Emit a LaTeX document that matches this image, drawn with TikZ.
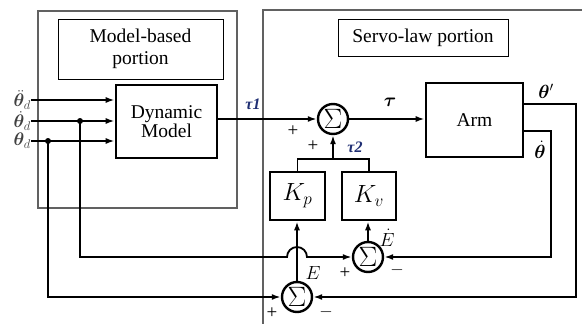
\documentclass[tikz,border=0pt]{standalone}
\usepackage{graphicx}
\usepackage{fontspec}
\setmainfont{Liberation Serif}
\usepackage{bm}
\usetikzlibrary{arrows.meta}
\definecolor{framegray}{gray}{0.38}
\definecolor{taublue}{rgb}{0.12,0.18,0.45}
\newcommand{\scmath}[2]{\scalebox{#1}{$#2$}}
\begin{document}
\begin{tikzpicture}[x=1pt,y=-1pt,
 every node/.style={font=\fontsize{19.5}{22}\selectfont},
 frame/.style={draw=framegray,line width=1.3pt},
 labelbox/.style={draw,line width=0.9pt,align=center,inner sep=0},
 block/.style={draw,line width=2.6pt,align=center,inner sep=0},
 sumnode/.style={circle,draw,line width=2.4pt,minimum size=30pt,inner sep=0},
 wire/.style={line width=1.8pt},
 arr/.style={wire,-{Latex[length=9pt,width=6pt]}},
 sig/.style={font=\fontsize{19}{20}\selectfont,inner sep=0},
 lab/.style={inner sep=0,font=\fontsize{17.28}{20}\selectfont}]
\clip (0,0) rectangle (582,324);
\useasboundingbox (0,0) rectangle (582,324);
% frames
\draw[frame] (38,11) rectangle (237,208);
\draw[frame] (590,10) -- (263,10) -- (263,330);
\node[labelbox,minimum width=165pt,minimum height=60pt] (mbl) at (140.5,49) {Model-based\\portion};
\node[labelbox,minimum width=170pt,minimum height=37pt] (svl) at (423,37.5) {Servo-law portion};
% blocks
\node[block,minimum width=101pt,minimum height=73pt] (dm) at (166.5,121.5) {Dynamic\\[-3pt]Model};
\node[block,minimum width=97pt,minimum height=74pt] (arm) at (474.5,120) {Arm};
\node[block,minimum width=55pt,minimum height=48pt] (kp) at (297.5,196) {\scmath{1.2}{K_p}};
\node[block,minimum width=54pt,minimum height=48pt] (kv) at (369,196) {\scmath{1.2}{K_v}};
\node[sumnode] (s1) at (333,119) {\scmath{1.35}{\Sigma}};
\node[sumnode] (s2) at (297,297) {\scmath{1.35}{\Sigma}};
\node[sumnode] (s3) at (368,257) {\scmath{1.35}{\Sigma}};
% inputs
\node[lab,anchor=east,text=black!75] (tdd) at (31,100) {\scmath{1.05}{\ddot{\bm\theta}_d}};
\node[lab,anchor=east,text=black!75] (td) at (31,121) {\scmath{1.05}{\dot{\bm\theta}_d}};
\node[lab,anchor=east,text=black!75] (t) at (31,141) {\scmath{1.05}{\bm\theta_d}};
\draw[arr] (tdd.east) -- (tdd.east -| dm.west);
\draw[arr] (td.east) -- (td.east -| dm.west);
\draw[arr] (t.east) -- (t.east -| dm.west);
\coordinate (j2) at (80,121);
\coordinate (j1) at (48,141);
\fill (j2) circle (3pt);
\fill (j1) circle (3pt);
\draw[arr] (j2) -- (80,257) -- (287,257) arc[start angle=180,end angle=0,radius=10pt] -- (s3.west);
\draw[arr] (j1) -- (48,297) -- (s2.west);
% forward path
\draw[arr] (dm.east |- s1) -- (s1.west);
\draw[arr] (s1.east) -- (arm.west |- s1);
% gains
\draw[arr] (s2.north) -- (s2.north |- kp.south);
\draw[arr] (s3.north) -- (s3.north |- kv.south);
\coordinate (tj) at (333,159);
\draw[wire] (kp.north) |- (tj) -| (kv.north);
\draw[arr] (tj) -- (s1.south);
% feedback
\draw[arr] (arm.east |- 0,104) -- (576,104) -- (576,297) -- (s2.east);
\draw[arr] (arm.east |- 0,131) -- (551,131) -- (551,257) -- (s3.east);
% labels
\node[lab,text=taublue,font=\fontsize{16}{17}\selectfont\bfseries\itshape] (tau1) at (253,104) {τ1};
\node[lab,text=taublue,font=\fontsize{16}{17}\selectfont\bfseries\itshape] (tau2) at (355,147) {τ2};
\node[lab] (tau) at (390,102) {\scmath{1.1}{\bm\tau}};
\node[lab] (thp) at (546,91) {\scmath{1.1}{\bm\theta'}};
\node[lab] (thd) at (540,150) {\scmath{1.1}{\dot{\bm\theta}}};
\node[lab] (E) at (313,273) {\scmath{1.1}{E}};
\node[lab] (Ed) at (387,238) {\scmath{1.1}{\dot E}};
\node[sig] (p1) at (293,131) {+};
\node[sig] (p2) at (313,146) {+};
\node[sig] (p3) at (272,313) {+};
\node[sig] (m3) at (326,312) {$-$};
\node[sig] (p4) at (345,273) {+};
\node[sig] (m4) at (397,270) {$-$};
\end{tikzpicture}
\end{document}
